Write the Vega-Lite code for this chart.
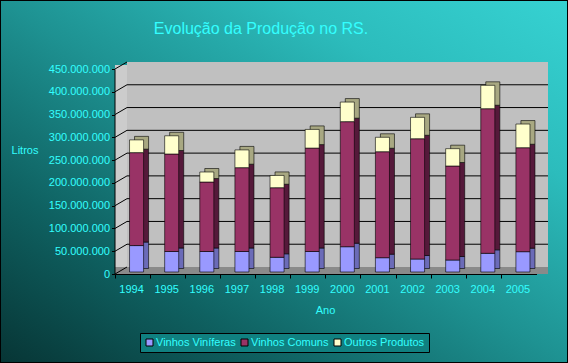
{
  "$schema": "https://vega.github.io/schema/vega-lite/v6.json",
  "width": 568,
  "height": 363,
  "padding": 0,
  "autosize": {"type": "none"},
  "background": "#0d5f5f",
  "title": {
    "text": "Evolução da Produção no RS.",
    "font": "Liberation Sans",
    "fontSize": 16,
    "fontWeight": "normal",
    "color": "#33ffff",
    "anchor": "middle",
    "frame": "group",
    "baseline": "alphabetic",
    "offset": -31,
    "dx": -23,
    "dy": 20,
    "zindex": 1
  },
  "config": {
    "view": {"stroke": null},
    "axis": {
      "grid": false,
      "zindex": 1,
      "domainColor": "#000000",
      "tickColor": "#000000",
      "labelColor": "#33ffff",
      "labelFont": "Liberation Sans",
      "labelFontSize": 11,
      "titleColor": "#33ffff",
      "titleFont": "Liberation Sans",
      "titleFontSize": 11,
      "titleFontWeight": "normal"
    },
    "legend": {"zindex": 1}
  },
  "resolve": {"scale": {"x": "independent", "y": "independent", "color": "independent"}, "axis": {"x": "independent", "y": "independent"}, "legend": {"color": "independent"}},
  "datasets": {
    "prod": [
      {"year": "1994", "series": "Vinhos Viníferas", "k": 1, "v": 58000000},
      {"year": "1994", "series": "Vinhos Comuns", "k": 2, "v": 204000000},
      {"year": "1994", "series": "Outros Produtos", "k": 3, "v": 28000000},
      {"year": "1995", "series": "Vinhos Viníferas", "k": 1, "v": 45000000},
      {"year": "1995", "series": "Vinhos Comuns", "k": 2, "v": 214000000},
      {"year": "1995", "series": "Outros Produtos", "k": 3, "v": 40000000},
      {"year": "1996", "series": "Vinhos Viníferas", "k": 1, "v": 45000000},
      {"year": "1996", "series": "Vinhos Comuns", "k": 2, "v": 152500000},
      {"year": "1996", "series": "Outros Produtos", "k": 3, "v": 22000000},
      {"year": "1997", "series": "Vinhos Viníferas", "k": 1, "v": 45000000},
      {"year": "1997", "series": "Vinhos Comuns", "k": 2, "v": 184000000},
      {"year": "1997", "series": "Outros Produtos", "k": 3, "v": 39000000},
      {"year": "1998", "series": "Vinhos Viníferas", "k": 1, "v": 32300000},
      {"year": "1998", "series": "Vinhos Comuns", "k": 2, "v": 152700000},
      {"year": "1998", "series": "Outros Produtos", "k": 3, "v": 27000000},
      {"year": "1999", "series": "Vinhos Viníferas", "k": 1, "v": 45000000},
      {"year": "1999", "series": "Vinhos Comuns", "k": 2, "v": 227000000},
      {"year": "1999", "series": "Outros Produtos", "k": 3, "v": 41000000},
      {"year": "2000", "series": "Vinhos Viníferas", "k": 1, "v": 55500000},
      {"year": "2000", "series": "Vinhos Comuns", "k": 2, "v": 274500000},
      {"year": "2000", "series": "Outros Produtos", "k": 3, "v": 43000000},
      {"year": "2001", "series": "Vinhos Viníferas", "k": 1, "v": 31400000},
      {"year": "2001", "series": "Vinhos Comuns", "k": 2, "v": 232600000},
      {"year": "2001", "series": "Outros Produtos", "k": 3, "v": 31700000},
      {"year": "2002", "series": "Vinhos Viníferas", "k": 1, "v": 28500000},
      {"year": "2002", "series": "Vinhos Comuns", "k": 2, "v": 264000000},
      {"year": "2002", "series": "Outros Produtos", "k": 3, "v": 47000000},
      {"year": "2003", "series": "Vinhos Viníferas", "k": 1, "v": 26300000},
      {"year": "2003", "series": "Vinhos Comuns", "k": 2, "v": 206400000},
      {"year": "2003", "series": "Outros Produtos", "k": 3, "v": 38000000},
      {"year": "2004", "series": "Vinhos Viníferas", "k": 1, "v": 41000000},
      {"year": "2004", "series": "Vinhos Comuns", "k": 2, "v": 317400000},
      {"year": "2004", "series": "Outros Produtos", "k": 3, "v": 51400000},
      {"year": "2005", "series": "Vinhos Viníferas", "k": 1, "v": 44600000},
      {"year": "2005", "series": "Vinhos Comuns", "k": 2, "v": 228200000},
      {"year": "2005", "series": "Outros Produtos", "k": 3, "v": 52000000}
    ],
    "grid": [
      {"g": 0}, {"g": 50000000}, {"g": 100000000}, {"g": 150000000}, {"g": 200000000},
      {"g": 250000000}, {"g": 300000000}, {"g": 350000000}, {"g": 400000000}, {"g": 450000000}
    ]
  },
  "layer": [
    {
      "data": {"values": [{}]},
      "mark": {
        "type": "rect",
        "fill": {
          "gradient": "linear", "x1": 0, "y1": 1, "x2": 1, "y2": 0,
          "stops": [
            {"offset": 0, "color": "#073535"},
            {"offset": 0.25, "color": "#0f6262"},
            {"offset": 0.5, "color": "#1e9292"},
            {"offset": 0.75, "color": "#2cbcbc"},
            {"offset": 1, "color": "#36d2d2"}
          ]
        },
        "stroke": "#000000",
        "strokeWidth": 2
      },
      "encoding": {
        "x": {"datum": 0, "type": "quantitative", "scale": {"domain": [0, 1], "range": [0, 568]}, "axis": null},
        "x2": {"datum": 1},
        "y": {"datum": 0, "type": "quantitative", "scale": {"domain": [0, 1], "range": [363, 0]}, "axis": null},
        "y2": {"datum": 1}
      }
    },
    {
      "data": {"values": [{}]},
      "mark": {"type": "rect", "fill": "#cccccc"},
      "encoding": {
        "x": {"datum": 0, "type": "quantitative", "scale": {"domain": [0, 1], "range": [115, 127]}, "axis": null},
        "x2": {"datum": 1},
        "y": {"datum": 0, "type": "quantitative", "scale": {"domain": [0, 450000000], "range": [274, 65], "nice": false}, "axis": null},
        "y2": {"datum": 450000000}
      }
    },
    {
      "data": {"values": [{}]},
      "mark": {"type": "rect", "fill": "#c0c0c0"},
      "encoding": {
        "x": {"datum": 0, "type": "quantitative", "scale": {"domain": [0, 1], "range": [127, 548]}, "axis": null},
        "x2": {"datum": 1},
        "y": {"datum": 0, "type": "quantitative", "scale": {"domain": [0, 450000000], "range": [267, 62], "nice": false}, "axis": null},
        "y2": {"datum": 450000000}
      }
    },
    {
      "data": {"values": [{}]},
      "mark": {"type": "rect", "fill": "#8a8a8a"},
      "encoding": {
        "x": {"datum": 0, "type": "quantitative", "scale": {"domain": [0, 1], "range": [115, 548]}, "axis": null},
        "x2": {"datum": 1},
        "y": {"datum": 0, "type": "quantitative", "scale": {"domain": [0, 1], "range": [274, 267]}, "axis": null},
        "y2": {"datum": 1}
      }
    },
    {
      "data": {"name": "grid"},
      "transform": [{"filter": "datum.g > 0 && datum.g < 450000000"}],
      "mark": {"type": "rule", "color": "#000000", "strokeWidth": 1},
      "encoding": {
        "x": {"datum": 0, "type": "quantitative", "scale": {"domain": [0, 1], "range": [127, 548]}, "axis": null},
        "x2": {"datum": 1},
        "y": {"field": "g", "type": "quantitative", "scale": {"domain": [0, 450000000], "range": [267, 62], "nice": false}, "axis": null}
      }
    },
    {
      "data": {"name": "grid"},
      "mark": {"type": "rule", "color": "#000000", "strokeWidth": 1, "y2Offset": -7},
      "encoding": {
        "x": {"datum": 0, "type": "quantitative", "scale": {"domain": [0, 1], "range": [115, 127]}, "axis": null},
        "x2": {"datum": 1},
        "y": {"field": "g", "type": "quantitative", "scale": {"domain": [0, 450000000], "range": [274, 69], "nice": false}, "axis": null},
        "y2": {"field": "g"}
      }
    },
    {
      "data": {"name": "prod"},
      "mark": {"type": "bar", "width": {"band": 0.4}, "xOffset": 9, "yOffset": -5.5, "stroke": "#000000", "strokeWidth": 0.6},
      "encoding": {
        "x": {
          "field": "year", "type": "nominal",
          "scale": {"type": "band", "domain": ["1994","1995","1996","1997","1998","1999","2000","2001","2002","2003","2004","2005"], "range": [115, 536.5], "paddingInner": 0, "paddingOuter": 0},
          "axis": null
        },
        "y": {
          "field": "v", "type": "quantitative", "stack": "zero",
          "scale": {"domain": [0, 450000000], "range": [274, 69], "nice": false, "zero": true},
          "axis": null
        },
        "color": {
          "field": "series", "type": "nominal",
          "scale": {"domain": ["Vinhos Viníferas", "Vinhos Comuns", "Outros Produtos"], "range": ["#6b6bb8", "#55193a", "#a8a882"]},
          "legend": null
        },
        "order": {"field": "k", "type": "quantitative"}
      }
    },
    {
      "data": {"name": "prod"},
      "mark": {"type": "bar", "width": {"band": 0.4}, "xOffset": 4, "yOffset": -2, "stroke": "#000000", "strokeWidth": 0.6},
      "encoding": {
        "x": {
          "field": "year", "type": "nominal",
          "scale": {"type": "band", "domain": ["1994","1995","1996","1997","1998","1999","2000","2001","2002","2003","2004","2005"], "range": [115, 536.5], "paddingInner": 0, "paddingOuter": 0},
          "axis": {
            "orient": "bottom", "offset": -89, "bandPosition": 0, "labelOffset": -1,
            "labelAngle": 0, "tickSize": 4, "labelPadding": 5, "zindex": 1,
            "title": "Ano", "titleX": 325, "titleY": 36, "titleAlign": "center", "titleBaseline": "middle"
          }
        },
        "y": {
          "field": "v", "type": "quantitative", "stack": "zero",
          "scale": {"domain": [0, 450000000], "range": [274, 69], "nice": false, "zero": true},
          "axis": {
            "orient": "left", "offset": -114.5, "zindex": 1,
            "values": [0, 50000000, 100000000, 150000000, 200000000, 250000000, 300000000, 350000000, 400000000, 450000000],
            "format": ",d", "labelExpr": "replace(replace(datum.label, ',', '.'), ',', '.')",
            "tickSize": 3, "labelPadding": 2,
            "title": "Litros", "titleAngle": 0, "titleX": -90, "titleY": 150, "titleAlign": "center", "titleBaseline": "middle"
          }
        },
        "color": {
          "field": "series", "type": "nominal",
          "scale": {"domain": ["Vinhos Viníferas", "Vinhos Comuns", "Outros Produtos"], "range": ["#9999ff", "#993366", "#ffffcc"]},
          "legend": {
            "orient": "none", "legendX": 140, "legendY": 333, "direction": "horizontal", "title": null, "zindex": 1,
            "fillColor": "#108080", "strokeColor": "#000000", "padding": 4,
            "symbolType": "square", "symbolSize": 49, "symbolStrokeColor": "#000000", "symbolStrokeWidth": 1, "symbolOpacity": 1,
            "labelColor": "#33ffff", "labelFont": "Liberation Sans", "labelFontSize": 11, "labelOffset": 1, "columnPadding": 3
          }
        },
        "order": {"field": "k", "type": "quantitative"}
      }
    }
  ]
}
